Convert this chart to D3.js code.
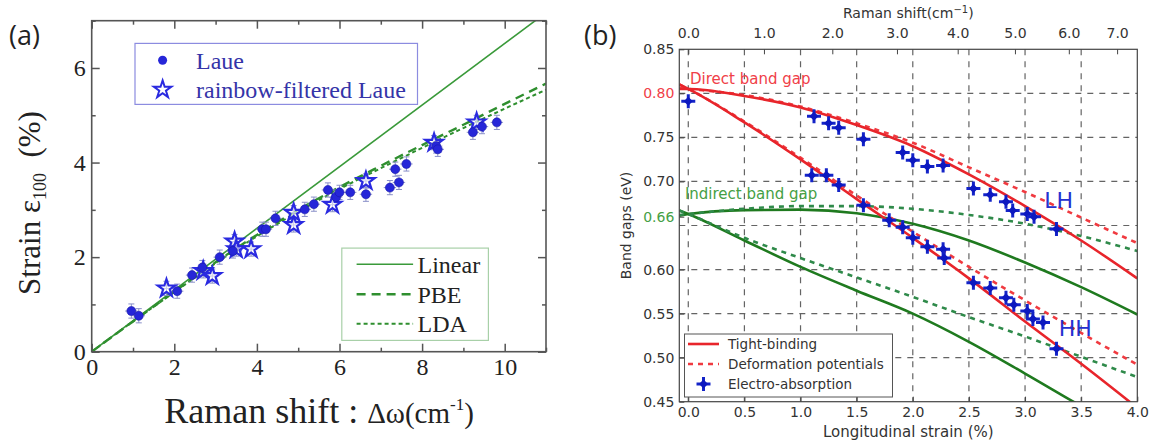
<!DOCTYPE html>
<html>
<head>
<meta charset="utf-8">
<script src="https://cdn.jsdelivr.net/npm/d3@7"></script>
<style>
  body { margin: 0; background: #fff; }
  svg { display: block; }
</style>
</head>
<body>
<svg id="fig" width="1155" height="441"></svg>
<script>
// ---------- Panel (a): strain vs Raman shift ----------
const laueShift  = [0.96, 1.14, 2.07, 2.43, 2.68, 3.10, 3.42, 4.13, 4.22, 4.45, 5.16, 5.38, 5.72, 5.92, 6.00, 6.26, 6.64, 7.22, 7.35, 7.44, 7.62, 8.34, 8.38, 9.23, 9.45, 9.81];
const laueStrain = [0.86, 0.76, 1.28, 1.62, 1.78, 2.00, 2.13, 2.59, 2.59, 2.82, 3.01, 3.12, 3.42, 3.27, 3.37, 3.37, 3.33, 3.47, 3.86, 3.58, 3.97, 4.35, 4.28, 4.64, 4.76, 4.85];
const rainbowShift  = [1.81, 2.70, 2.92, 3.46, 3.50, 3.86, 4.89, 4.89, 5.83, 6.64, 8.29, 9.32];
const rainbowStrain = [1.34, 1.71, 1.60, 2.33, 2.17, 2.17, 2.68, 2.94, 3.11, 3.61, 4.42, 4.85];
const errShift = 0.15, errStrain = 0.15;

const linearShift  = [0, 11];
const linearStrain = [0, 7.17];
const fitShift  = [0, 1, 2, 3, 4, 5, 6, 7, 8, 9, 10, 11];
const pbeStrain = [0, 0.64, 1.27, 1.89, 2.47, 3.00, 3.48, 3.93, 4.37, 4.80, 5.24, 5.67];
const ldaStrain = [0, 0.64, 1.26, 1.87, 2.44, 2.96, 3.44, 3.88, 4.31, 4.73, 5.14, 5.54];

const xTicksA = [0, 2, 4, 6, 8, 10];
const xMinorA = [1, 3, 5, 7, 9, 11];
const yTicksA = [0, 2, 4, 6];
const yMinorA = [1, 3, 5, 7];

// ---------- Panel (b): band gaps vs longitudinal strain ----------
const strainGrid = [-0.08, 0, 0.5, 1.0, 1.5, 2.0, 2.5, 3.0, 3.5, 4.0];
const tbLH  = [0.805, 0.805, 0.797, 0.784, 0.764, 0.740, 0.708, 0.672, 0.633, 0.590];
const dpLH  = [0.806, 0.805, 0.798, 0.785, 0.766, 0.744, 0.716, 0.688, 0.659, 0.630];
const tbHH  = [0.810, 0.805, 0.767, 0.725, 0.680, 0.636, 0.590, 0.541, 0.493, 0.443];
const dpHH  = [0.810, 0.805, 0.768, 0.727, 0.684, 0.643, 0.603, 0.565, 0.528, 0.492];
const tbInd1 = [0.661, 0.663, 0.6675, 0.668, 0.664, 0.652, 0.633, 0.608, 0.580, 0.549];
const dpInd1 = [0.662, 0.663, 0.669, 0.672, 0.672, 0.669, 0.662, 0.652, 0.638, 0.621];
const tbInd2 = [0.667, 0.663, 0.633, 0.603, 0.576, 0.550, 0.518, 0.482, 0.445, 0.410];
const dpInd2 = [0.667, 0.663, 0.636, 0.613, 0.591, 0.569, 0.546, 0.524, 0.501, 0.478];

const eaStrainLH = [0.0, 1.12, 1.25, 1.34, 1.56, 1.91, 2.00, 2.13, 2.27, 2.54, 2.69, 2.83, 2.89, 3.02, 3.08, 3.28];
const eaGapLH    = [0.791, 0.774, 0.766, 0.761, 0.748, 0.733, 0.724, 0.717, 0.718, 0.692, 0.685, 0.677, 0.667, 0.663, 0.660, 0.646];
const eaStrainHH = [1.10, 1.23, 1.34, 1.56, 1.79, 1.91, 2.00, 2.13, 2.27, 2.28, 2.54, 2.69, 2.83, 2.90, 3.02, 3.07, 3.16, 3.28];
const eaGapHH    = [0.707, 0.707, 0.696, 0.673, 0.656, 0.648, 0.636, 0.626, 0.623, 0.613, 0.585, 0.579, 0.568, 0.560, 0.553, 0.544, 0.540, 0.510];

const xTicksB = [0, 0.5, 1.0, 1.5, 2.0, 2.5, 3.0, 3.5, 4.0];
const yTicksB = [0.45, 0.50, 0.55, 0.60, 0.66, 0.70, 0.75, 0.80, 0.85];
const xGridB = [0, 0.5, 1.0, 1.5, 2.0, 2.5, 3.0, 3.5];
const yGridB = [0.50, 0.55, 0.60, 0.65, 0.70, 0.75, 0.80];
const ramanTicks    = [0, 1, 2, 3, 4, 5, 6, 7];
const ramanAtStrain = [0, 0.674, 1.283, 1.859, 2.40, 2.91, 3.39, 3.82];

const svg = d3.select("#fig");
svg.append("rect").attr("width", 1155).attr("height", 441).attr("fill", "#fff");

// =============== Panel (a) ===============
const serif = "'Liberation Serif', 'Times New Roman', serif";
const A = { x0: 91.7, x1: 546, y0: 20.7, y1: 351.7 };
const xA = d3.scaleLinear().domain([0, 11]).range([A.x0, A.x1]);
const yA = d3.scaleLinear().domain([0, 7]).range([A.y1, A.y0]);

const gA = svg.append("g");
gA.append("defs").append("clipPath").attr("id", "clipA")
  .append("rect").attr("x", A.x0).attr("y", A.y0).attr("width", A.x1 - A.x0).attr("height", A.y1 - A.y0);

function styleAxisA(g) {
  g.select(".domain").remove();
  g.selectAll(".tick line").attr("stroke", "#555").attr("stroke-width", 1.5);
  g.selectAll(".tick text").attr("font-family", serif).attr("font-size", 24).attr("fill", "#222");
}
gA.append("g").attr("transform", `translate(0,${A.y1})`)
  .call(d3.axisBottom(xA).tickValues(xTicksA).tickSize(-8).tickPadding(6).tickFormat(d3.format("d"))).call(styleAxisA);
gA.append("g").attr("transform", `translate(0,${A.y1})`)
  .call(d3.axisBottom(xA).tickValues(xMinorA).tickSize(-4).tickFormat("")).call(styleAxisA);
gA.append("g").attr("transform", `translate(0,${A.y0})`)
  .call(d3.axisTop(xA).tickValues(xTicksA).tickSize(-8).tickFormat("")).call(styleAxisA);
gA.append("g").attr("transform", `translate(0,${A.y0})`)
  .call(d3.axisTop(xA).tickValues(xMinorA).tickSize(-4).tickFormat("")).call(styleAxisA);
gA.append("g").attr("transform", `translate(${A.x0},0)`)
  .call(d3.axisLeft(yA).tickValues(yTicksA).tickSize(-8).tickPadding(6).tickFormat(d3.format("d"))).call(styleAxisA);
gA.append("g").attr("transform", `translate(${A.x0},0)`)
  .call(d3.axisLeft(yA).tickValues(yMinorA).tickSize(-4).tickFormat("")).call(styleAxisA);
gA.append("g").attr("transform", `translate(${A.x1},0)`)
  .call(d3.axisRight(yA).tickValues(yTicksA).tickSize(-8).tickFormat("")).call(styleAxisA);
gA.append("g").attr("transform", `translate(${A.x1},0)`)
  .call(d3.axisRight(yA).tickValues(yMinorA).tickSize(-4).tickFormat("")).call(styleAxisA);

// model lines
const plotA = gA.append("g").attr("clip-path", "url(#clipA)");
const lineA = d3.line().x(d => xA(d[0])).y(d => yA(d[1])).curve(d3.curveMonotoneX);
const green = "#2f8f2f";
plotA.append("path").datum(d3.zip(linearShift, linearStrain)).attr("d", lineA)
  .attr("fill", "none").attr("stroke", "#3a9a3a").attr("stroke-width", 1.6);
plotA.append("path").datum(d3.zip(fitShift, pbeStrain)).attr("d", lineA)
  .attr("fill", "none").attr("stroke", green).attr("stroke-width", 2.4).attr("stroke-dasharray", "9,6");
plotA.append("path").datum(d3.zip(fitShift, ldaStrain)).attr("d", lineA)
  .attr("fill", "none").attr("stroke", green).attr("stroke-width", 2).attr("stroke-dasharray", "4,3");

// error bars
function errBarsA(xs, ys) {
  const g = plotA.append("g").attr("stroke", "#8a90c8").attr("stroke-width", 1);
  xs.forEach((x, i) => {
    const y = ys[i];
    g.append("line").attr("x1", xA(x - errShift)).attr("x2", xA(x + errShift)).attr("y1", yA(y)).attr("y2", yA(y));
    g.append("line").attr("x1", xA(x)).attr("x2", xA(x)).attr("y1", yA(y - errStrain)).attr("y2", yA(y + errStrain));
    g.append("line").attr("x1", xA(x) - 3).attr("x2", xA(x) + 3).attr("y1", yA(y - errStrain)).attr("y2", yA(y - errStrain));
    g.append("line").attr("x1", xA(x) - 3).attr("x2", xA(x) + 3).attr("y1", yA(y + errStrain)).attr("y2", yA(y + errStrain));
  });
}
errBarsA(laueShift, laueStrain);
errBarsA(rainbowShift, rainbowStrain);

const starSym = d3.symbol().type(d3.symbolStar).size(95);
plotA.append("g").selectAll("path").data(d3.zip(rainbowShift, rainbowStrain)).join("path")
  .attr("d", starSym).attr("transform", d => `translate(${xA(d[0])},${yA(d[1])})`)
  .attr("fill", "#fff").attr("fill-opacity", 0.55).attr("stroke", "#2a2ae0").attr("stroke-width", 2.2);
plotA.append("g").selectAll("circle").data(d3.zip(laueShift, laueStrain)).join("circle")
  .attr("cx", d => xA(d[0])).attr("cy", d => yA(d[1])).attr("r", 4.5)
  .attr("fill", "#2626d8").attr("stroke", "#1a1aa8").attr("stroke-width", 0.6);

gA.append("rect").attr("x", A.x0).attr("y", A.y0).attr("width", A.x1 - A.x0).attr("height", A.y1 - A.y0)
  .attr("fill", "none").attr("stroke", "#555").attr("stroke-width", 1.6);

// legend: measurements
const legA1 = gA.append("g");
legA1.append("rect").attr("x", 135).attr("y", 43.4).attr("width", 282.5).attr("height", 61)
  .attr("fill", "#fff").attr("stroke", "#8c8ce0").attr("stroke-width", 1.2);
legA1.append("circle").attr("cx", 162.6).attr("cy", 60.2).attr("r", 4.5).attr("fill", "#2626d8");
legA1.append("path").attr("d", starSym).attr("transform", "translate(162.6,89.6)")
  .attr("fill", "#fff").attr("stroke", "#2a2ae0").attr("stroke-width", 2);
legA1.append("text").attr("x", 196).attr("y", 60.2).attr("dy", "0.35em").text("Laue")
  .attr("font-family", serif).attr("font-size", 24).attr("fill", "#3434a8");
legA1.append("text").attr("x", 196).attr("y", 89.6).attr("dy", "0.35em").text("rainbow-filtered Laue")
  .attr("font-family", serif).attr("font-size", 24).attr("fill", "#3434a8");

// legend: models
const legA2 = gA.append("g");
legA2.append("rect").attr("x", 341.8).attr("y", 248.1).attr("width", 146.6).attr("height", 92.3)
  .attr("fill", "#fff").attr("stroke", "#a8d0a8").attr("stroke-width", 1.2);
const legModels = [["Linear", 264.2, null, 1.6, "#3a9a3a"], ["PBE", 294.3, "9,6", 2.4, green], ["LDA", 323.7, "4,3", 2, green]];
legModels.forEach(([name, y, dash, w, c]) => {
  legA2.append("line").attr("x1", 356.6).attr("x2", 413.1).attr("y1", y).attr("y2", y)
    .attr("stroke", c).attr("stroke-width", w).attr("stroke-dasharray", dash);
  legA2.append("text").attr("x", 417.5).attr("y", y).attr("dy", "0.35em").text(name)
    .attr("font-family", serif).attr("font-size", 24).attr("fill", "#222");
});

// axis titles
const yTitleA = gA.append("text").attr("transform", "translate(40,203) rotate(-90)")
  .attr("text-anchor", "middle").attr("font-family", serif).attr("font-size", 31).attr("fill", "#222");
yTitleA.append("tspan").text("Strain ε");
yTitleA.append("tspan").attr("font-size", 18).attr("dy", 6).text("100");
yTitleA.append("tspan").attr("dy", -6).text("\u00a0\u00a0(%)");

const xTitleA = gA.append("text").attr("x", 319).attr("y", 423)
  .attr("text-anchor", "middle").attr("font-family", serif).attr("fill", "#222");
xTitleA.append("tspan").attr("font-size", 36).text("Raman shift : ");
xTitleA.append("tspan").attr("font-size", 29).text("Δω(cm");
xTitleA.append("tspan").attr("font-size", 17).attr("dy", -13).text("-1");
xTitleA.append("tspan").attr("font-size", 29).attr("dy", 13).text(")");

svg.append("text").attr("x", 9).attr("y", 45).text("(a)")
  .attr("font-family", "'Open Sans', 'Liberation Sans', sans-serif").attr("font-size", 27).attr("fill", "#222");

// =============== Panel (b) ===============
const sans = "'DejaVu Sans', sans-serif";
const B = { x0: 679.3, x1: 1137.3, y0: 49.3, y1: 401.7 };
const xB = d3.scaleLinear().domain([-0.08, 4.0]).range([B.x0, B.x1]);
const yB = d3.scaleLinear().domain([0.45, 0.85]).range([B.y1, B.y0]);
const gB = svg.append("g");
gB.append("defs").append("clipPath").attr("id", "clipB")
  .append("rect").attr("x", B.x0).attr("y", B.y0).attr("width", B.x1 - B.x0).attr("height", B.y1 - B.y0);

// dashed grid
const grid = gB.append("g").attr("stroke", "#4a4a4a").attr("stroke-width", 1.2).attr("stroke-dasharray", "6,6").attr("opacity", 0.85);
grid.selectAll("line.v").data(xGridB).join("line").attr("class", "v")
  .attr("x1", d => xB(d)).attr("x2", d => xB(d)).attr("y1", B.y0).attr("y2", B.y1);
grid.selectAll("line.h").data(yGridB).join("line").attr("class", "h")
  .attr("x1", B.x0).attr("x2", B.x1).attr("y1", d => yB(d)).attr("y2", d => yB(d));

const red = "#e8252b", redDash = "#f03a40", dgreen = "#1f7a1f", dgreenDash = "#2f8a4a";
const plotB = gB.append("g").attr("clip-path", "url(#clipB)");
const lineB = d3.line().x(d => xB(d[0])).y(d => yB(d[1])).curve(d3.curveMonotoneX);
const curves = [
  [tbInd1, dgreen, null], [dpInd1, dgreenDash, "5,5"],
  [tbInd2, dgreen, null], [dpInd2, dgreenDash, "5,5"],
  [dpLH, redDash, "5,5"], [dpHH, redDash, "5,5"],
  [tbLH, red, null], [tbHH, red, null]
];
curves.forEach(([vals, c, dash]) => {
  plotB.append("path").datum(d3.zip(strainGrid, vals)).attr("d", lineB)
    .attr("fill", "none").attr("stroke", c).attr("stroke-width", 2.6).attr("stroke-dasharray", dash);
});

// electro-absorption points
function eaMarker(g, x, y) {
  const m = g.append("g").attr("transform", `translate(${x},${y})`);
  m.append("line").attr("x1", -7).attr("x2", 7).attr("stroke", "#1424c8").attr("stroke-width", 3);
  m.append("line").attr("y1", -7).attr("y2", 7).attr("stroke", "#1424c8").attr("stroke-width", 3);
  m.append("path").attr("d", "M0,-4.5L4.5,0L0,4.5L-4.5,0Z").attr("fill", "#0c18c0");
}
const ptsB = plotB.append("g");
eaStrainLH.forEach((s, i) => eaMarker(ptsB, xB(s), yB(eaGapLH[i])));
eaStrainHH.forEach((s, i) => eaMarker(ptsB, xB(s), yB(eaGapHH[i])));

function styleAxisB(g) {
  g.select(".domain").remove();
  g.selectAll(".tick line").attr("stroke", "#444").attr("stroke-width", 1);
  g.selectAll(".tick text").attr("font-family", sans).attr("font-size", 14).attr("fill", "#333");
}
gB.append("g").attr("transform", `translate(0,${B.y1})`)
  .call(d3.axisBottom(xB).tickValues(xTicksB).tickSize(-5).tickPadding(5).tickFormat(d3.format(".1f"))).call(styleAxisB);
const yAxB = gB.append("g").attr("transform", `translate(${B.x0},0)`)
  .call(d3.axisLeft(yB).tickValues(yTicksB).tickSize(-5).tickPadding(5).tickFormat(d3.format(".2f"))).call(styleAxisB);
yAxB.selectAll(".tick text").attr("fill", d => d === 0.80 ? "#f04048" : d === 0.66 ? "#45a045" : "#333");

const xRaman = d3.scaleLinear().domain(ramanTicks).range(ramanAtStrain.map(xB));
gB.append("g").attr("transform", `translate(0,${B.y0})`)
  .call(d3.axisTop(xRaman).tickValues(ramanTicks).tickSize(-5).tickPadding(11).tickFormat(d3.format(".1f"))).call(styleAxisB);

gB.append("rect").attr("x", B.x0).attr("y", B.y0).attr("width", B.x1 - B.x0).attr("height", B.y1 - B.y0)
  .attr("fill", "none").attr("stroke", "#444").attr("stroke-width", 1.2);

// annotations
gB.append("text").attr("x", xB(0.016)).attr("y", yB(0.8165)).attr("dy", "0.35em").text("Direct band gap")
  .attr("font-family", sans).attr("font-size", 15).attr("fill", "#f04048");
gB.append("text").attr("x", xB(-0.03)).attr("y", yB(0.686)).attr("dy", "0.35em").text("Indirect band gap")
  .attr("font-family", sans).attr("font-size", 15).attr("fill", "#45a045");
gB.append("text").attr("x", xB(3.17)).attr("y", yB(0.679)).attr("dy", "0.35em").text("LH")
  .attr("font-family", sans).attr("font-size", 22).attr("fill", "#2430d0");
gB.append("text").attr("x", xB(3.30)).attr("y", yB(0.533)).attr("dy", "0.35em").text("HH")
  .attr("font-family", sans).attr("font-size", 22).attr("fill", "#2430d0");

// legend
const legB = gB.append("g");
legB.append("rect").attr("x", 684.5).attr("y", 334).attr("width", 208).attr("height", 63)
  .attr("fill", "#fff").attr("stroke", "#555").attr("stroke-width", 1);
legB.append("line").attr("x1", 688).attr("x2", 719).attr("y1", 344).attr("y2", 344).attr("stroke", red).attr("stroke-width", 2.6);
legB.append("line").attr("x1", 688).attr("x2", 719).attr("y1", 364).attr("y2", 364).attr("stroke", redDash).attr("stroke-width", 2.6).attr("stroke-dasharray", "5,5");
eaMarker(legB, 703.5, 384);
[["Tight-binding", 344], ["Deformation potentials", 364], ["Electro-absorption", 384]].forEach(([t, y]) => {
  legB.append("text").attr("x", 728).attr("y", y).attr("dy", "0.35em").text(t)
    .attr("font-family", sans).attr("font-size", 13.5).attr("fill", "#333");
});

// axis titles
const cxB = (B.x0 + B.x1) / 2;
gB.append("text").attr("x", cxB).attr("y", 437).attr("text-anchor", "middle").text("Longitudinal strain (%)")
  .attr("font-family", sans).attr("font-size", 15).attr("fill", "#333");
const topTitle = gB.append("text").attr("x", cxB).attr("y", 18).attr("text-anchor", "middle")
  .attr("font-family", sans).attr("font-size", 14).attr("fill", "#333");
topTitle.append("tspan").text("Raman shift(cm");
topTitle.append("tspan").attr("font-size", 10).attr("dy", -5).text("−1");
topTitle.append("tspan").attr("dy", 5).text(")");
gB.append("text").attr("transform", `translate(631,${(B.y0 + B.y1) / 2}) rotate(-90)`).attr("text-anchor", "middle")
  .text("Band gaps (eV)").attr("font-family", sans).attr("font-size", 14).attr("fill", "#333");

svg.append("text").attr("x", 584).attr("y", 45).text("(b)")
  .attr("font-family", "'Open Sans', 'Liberation Sans', sans-serif").attr("font-size", 27).attr("fill", "#222");
</script>
</body>
</html>
